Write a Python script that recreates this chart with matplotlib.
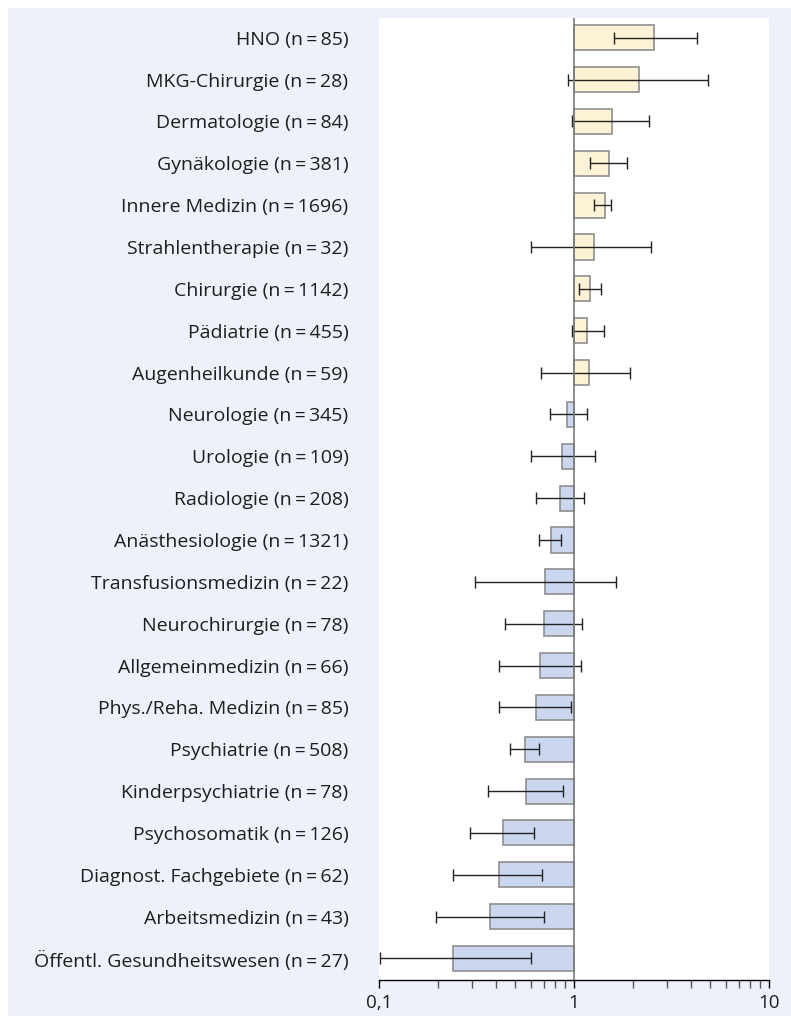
import matplotlib
matplotlib.use("Agg")
import matplotlib.pyplot as plt
from matplotlib.patches import Rectangle
from matplotlib.ticker import LogLocator, FixedFormatter, FixedLocator, NullFormatter
import numpy as np

# Fachgebiete und Stichprobengrößen
fachgebiete = [
    "HNO", "MKG-Chirurgie", "Dermatologie", "Gynäkologie", "Innere Medizin",
    "Strahlentherapie", "Chirurgie", "Pädiatrie", "Augenheilkunde", "Neurologie",
    "Urologie", "Radiologie", "Anästhesiologie", "Transfusionsmedizin",
    "Neurochirurgie", "Allgemeinmedizin", "Phys./Reha. Medizin", "Psychiatrie",
    "Kinderpsychiatrie", "Psychosomatik", "Diagnost. Fachgebiete",
    "Arbeitsmedizin", "Öffentl. Gesundheitswesen",
]
n_werte = [85, 28, 84, 381, 1696, 32, 1142, 455, 59, 345, 109, 208, 1321, 22,
           78, 66, 85, 508, 78, 126, 62, 43, 27]

# Odds Ratio und Konfidenzintervall
odds_ratio = [2.57, 2.15, 1.57, 1.52, 1.45, 1.26, 1.21, 1.17, 1.19, 0.92,
              0.87, 0.85, 0.76, 0.71, 0.70, 0.67, 0.64, 0.56, 0.565, 0.43,
              0.414, 0.371, 0.241]
ci_unten = [1.60, 0.936, 0.973, 1.21, 1.26, 0.605, 1.057, 0.977, 0.68, 0.75,
            0.605, 0.641, 0.665, 0.31, 0.443, 0.414, 0.412, 0.468, 0.362, 0.292,
            0.241, 0.196, 0.101]
ci_oben = [4.27, 4.87, 2.42, 1.86, 1.55, 2.48, 1.37, 1.43, 1.93, 1.16,
           1.277, 1.13, 0.858, 1.65, 1.099, 1.09, 0.97, 0.662, 0.878, 0.624,
           0.685, 0.705, 0.602]

BG = "#edf1f9"
GELB = "#fdf1d6"
BLAU = "#cbd6ef"
KANTE = "#8f8f8f"

plt.rcParams["font.family"] = ["Open Sans", "DejaVu Sans"]

fig = plt.figure(figsize=(7.91, 10.16), dpi=100)
fig.patch.set_facecolor("white")
# hellblauer Hintergrund (oben/links schmaler weißer Rand)
fig.patches.append(Rectangle((8 / 791, 0), 1 - 8 / 791, 1 - 8 / 1016,
                             transform=fig.transFigure, facecolor=BG,
                             edgecolor="none", zorder=-10))

ax = fig.add_axes([379 / 791, 36 / 1016, 390 / 791, 962 / 1016])
ax.set_facecolor("white")

y = np.arange(len(fachgebiete))
or_arr = np.array(odds_ratio)
farben = [GELB if v > 1 else BLAU for v in or_arr]

ax.barh(y, or_arr - 1, left=1, height=0.6, color=farben,
        edgecolor=KANTE, linewidth=1.2, zorder=2)

fehler = [or_arr - np.array(ci_unten), np.array(ci_oben) - or_arr]
ax.errorbar(or_arr, y, xerr=fehler, fmt="none", ecolor="#222222",
            elinewidth=1.0, capsize=4.6, capthick=1.0, zorder=3)

ax.axvline(1, color="#7a7a7a", linewidth=1.2, zorder=4)

ax.set_xscale("log")
ax.set_xlim(0.1, 10)
ax.set_ylim(22.514, -0.473)

ax.xaxis.set_major_locator(FixedLocator([0.1, 1, 10]))
ax.xaxis.set_major_formatter(FixedFormatter(["0,1", "1", "10"]))
ax.xaxis.set_minor_locator(LogLocator(base=10, subs=np.arange(2, 10)))
ax.xaxis.set_minor_formatter(NullFormatter())
ax.tick_params(axis="x", which="major", direction="out", length=6, width=1.0,
               color="black", labelsize=13.5, pad=4, labelcolor="#1e1e1e")
ax.tick_params(axis="x", which="minor", direction="out", length=6, width=1.0,
               color="#555555")

ax.set_yticks(y)
ax.set_yticklabels([f"{f} (n\u2009=\u2009{n})" for f, n in zip(fachgebiete, n_werte)],
                   fontsize=14, color="#1e1e1e")
ax.tick_params(axis="y", length=0, pad=22)

for s in ["top", "right", "left"]:
    ax.spines[s].set_visible(False)
ax.spines["bottom"].set_color("black")
ax.spines["bottom"].set_linewidth(1.0)

fig.savefig("out.png", dpi=100, facecolor=fig.get_facecolor())
